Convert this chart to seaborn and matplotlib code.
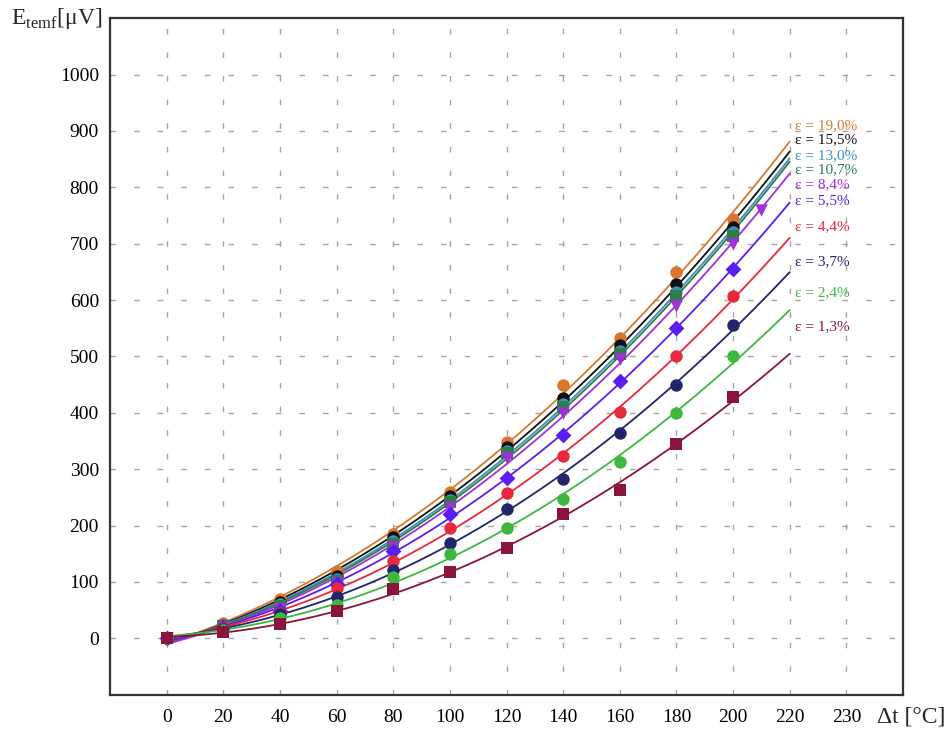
import numpy as np
import pandas as pd
import seaborn as sns
import matplotlib.pyplot as plt

# datos
dt = [0, 20, 40, 60, 80, 100, 120, 140, 160, 180, 200]
eps_labels = ['19,0', '15,5', '13,0', '10,7', '8,4', '5,5', '4,4', '3,7', '2,4', '1,3']

e_190 = [0, 27, 69, 119, 186, 259, 349, 450, 532, 649, 743]
e_155 = [0, 24, 64, 110, 179, 252, 340, 427, 521, 629, 729]
e_130 = [0, 23, 61, 105, 172, 246, 333, 415, 510, 615, 720]
e_107 = [0, 22, 58, 102, 168, 241, 328, 410, 505, 608, 714]
e_84 = [0, 21, 52, 98, 162, 232, 320, 400, 495, 589, 699]
e_55 = [0, 20, 48, 96, 155, 220, 284, 360, 456, 550, 656]
e_44 = [0, 18, 45, 90, 138, 195, 257, 323, 402, 500, 608]
e_37 = [0, 17, 43, 74, 122, 170, 229, 282, 365, 450, 555]
e_24 = [0, 15, 36, 60, 108, 150, 195, 248, 312, 399, 500]
e_13 = [0, 11, 25, 48, 87, 117, 161, 220, 264, 344, 428]

# punto extra de la serie 8,4 %
dt_84_extra = [210]
e_84_extra = [760]

label_y = [910, 884, 857, 831, 805, 777, 730, 668, 613, 553]

xticks = [0, 20, 40, 60, 80, 100, 120, 140, 160, 180, 200, 220, 240]
xtick_labels = ['0', '20', '40', '60', '80', '100', '120', '140', '160', '180', '200', '220', '230']
yticks = list(range(0, 1001, 100))

series = [e_190, e_155, e_130, e_107, e_84, e_55, e_44, e_37, e_24, e_13]
colores = ['#D9772F', '#111111', '#3E8DBF', '#2E7D4A', '#A030D8',
           '#5A1EF0', '#E8283C', '#22256A', '#3DB83D', '#8B1538']
marcadores = ['o', 'o', 'o', 's', 'v', 'D', 'o', 'o', 'o', 's']

sns.set_style('white')
plt.rcParams['font.family'] = ['Liberation Serif', 'DejaVu Serif']
plt.rcParams['mathtext.fontset'] = 'custom'
plt.rcParams['mathtext.rm'] = 'Liberation Serif'

fig = plt.figure(figsize=(9.49, 7.29), dpi=100)
ax = fig.add_axes([0.116, 0.047, 0.8355, 0.928])

xs = np.linspace(0, 220, 200)
for vals, col, mk, lab, ly in zip(series, colores, marcadores, eps_labels, label_y):
    x_pts = list(dt)
    y_pts = list(vals)
    if lab == '8,4':
        x_pts += dt_84_extra
        y_pts += e_84_extra
    # curva de ajuste (polinomio de grado 2)
    coef = np.polyfit(x_pts, y_pts, 2)
    sns.lineplot(x=xs, y=np.polyval(coef, xs), color=col, lw=1.3, ax=ax)
    sns.scatterplot(x=x_pts, y=y_pts, color=col, marker=mk, s=80 if mk != 'D' else 65,
                    linewidth=0, ax=ax, zorder=3)
    ax.text(222, ly, 'ε = ' + lab + '%', color=col, fontsize=11, va='center', ha='left')

ax.set_xlim(-20, 260)
ax.set_ylim(-100, 1100)
ax.set_xticks(xticks)
ax.set_xticklabels(xtick_labels)
ax.set_yticks(yticks)
ax.tick_params(axis='both', length=0, labelsize=14, colors='black')
ax.tick_params(axis='x', pad=10)
ax.tick_params(axis='y', pad=8)
ax.grid(True, color='#a5a5a5', linestyle=(0, (4, 13)), linewidth=1)
for sp in ax.spines.values():
    sp.set_color('#333333')
    sp.set_linewidth(1.6)

fig.text(0.1075, 0.975, r'E$_{\mathregular{temf}}$[μV]', fontsize=17, ha='right', va='center')
fig.text(0.924, 0.016, 'Δt [°C]', fontsize=17, ha='left', va='center')

fig.savefig('out.png', dpi=100)
